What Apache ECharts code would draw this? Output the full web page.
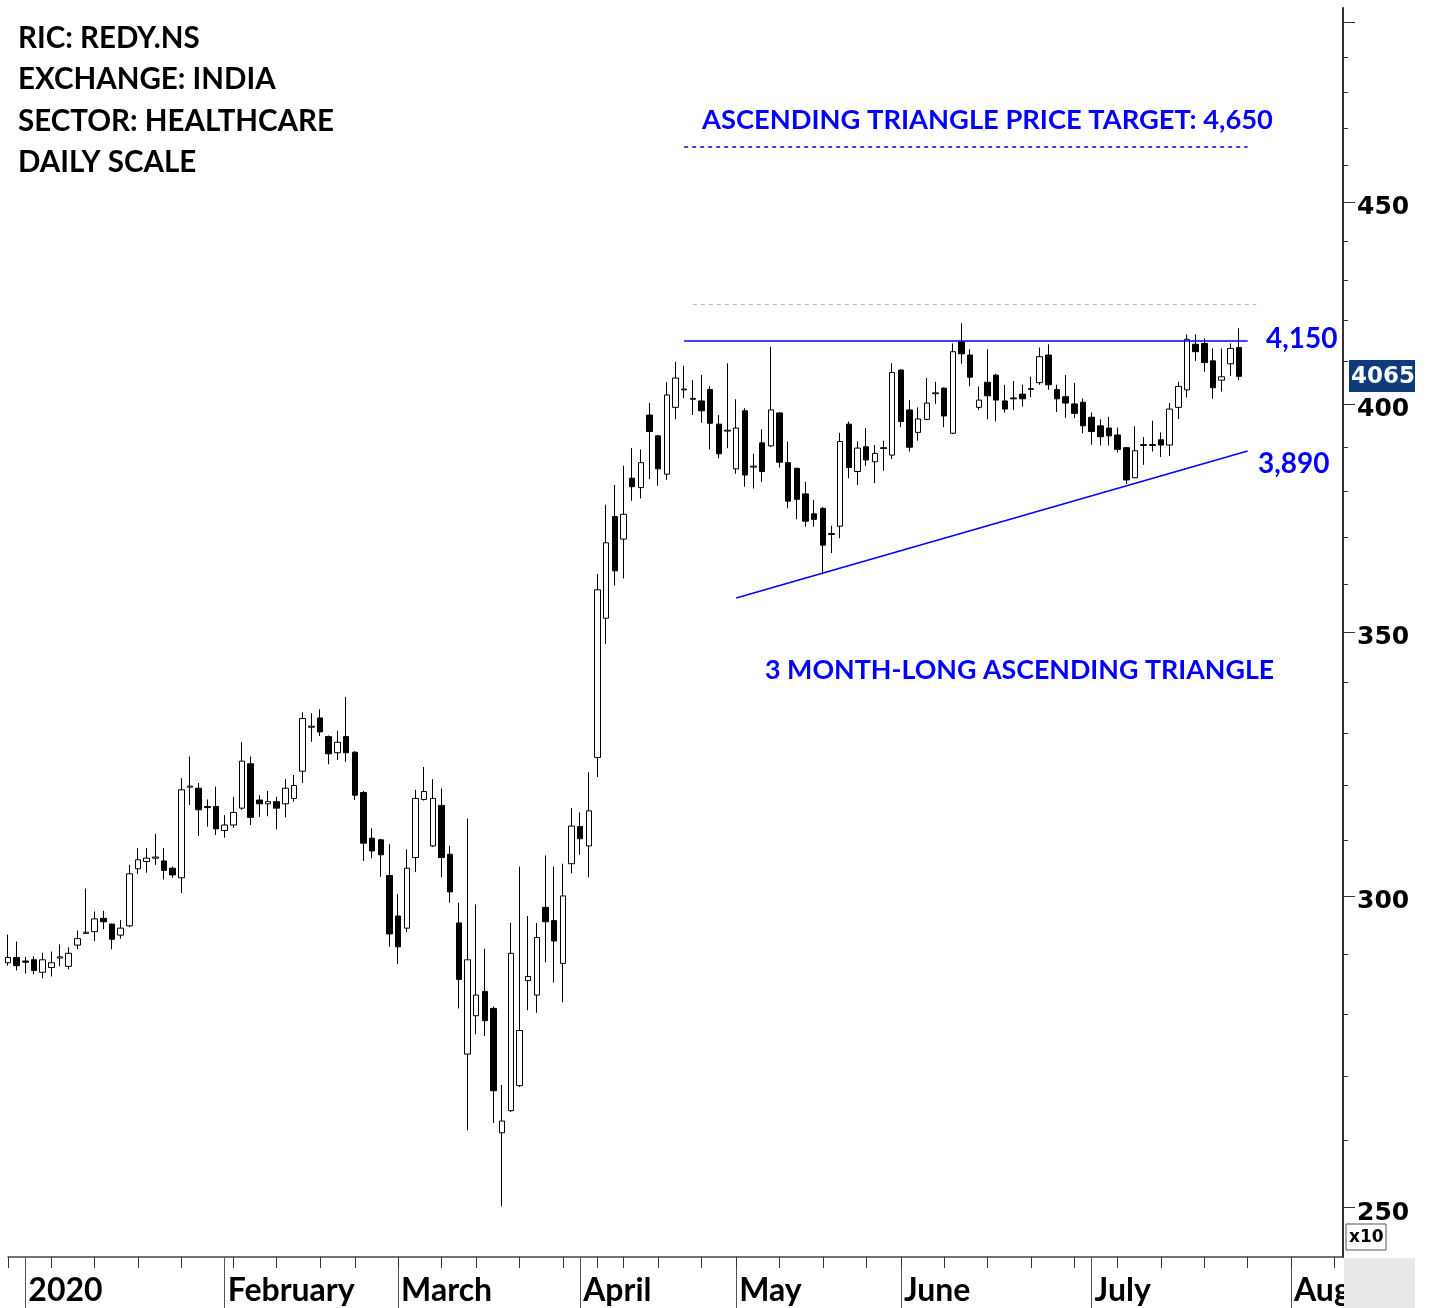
<!DOCTYPE html>
<html><head><meta charset="utf-8">
<script src="https://cdn.jsdelivr.net/npm/echarts@6/dist/echarts.min.js"></script>
<style>html,body{margin:0;padding:0;background:#fff}#chart{width:1429px;height:1308px}</style>
</head><body><div id="chart"></div>
<script>
// ---- trading days (category axis) ----
const dec19 = [30,31];
const jan20 = [1,2,3,6,7,8,9,10,13,14,15,16,17,20,21,22,23,24,27,28,29,30,31];
const feb20 = [1,3,4,5,6,7,10,11,12,13,14,17,18,19,20,24,25,26,27,28];
const mar20 = [2,3,4,5,6,9,11,12,13,16,17,18,19,20,23,24,25,26,27,30,31];
const apr20 = [1,3,7,8,9,13,15,16,17,20,21,22,23,24,27,28,29,30];
const may20 = [4,5,6,7,8,11,12,13,14,15,18,19,20,21,22,26,27,28,29];
const jun20 = [1,2,3,4,5,8,9,10,11,12,15,16,17,18,19,22,23,24,25,26,29,30];
const jul20 = [1,2,3,6,7,8,9,10,13,14,15,16,17,20,21,22,23,24,27,28,29,30,31];
const aug20 = [3,4,5,6,7,10,11];

// month tick labels (index = month number, Jan..Aug)
const monthLabels = ['2020','February','March','April','May','June','July','August'];

// ---- daily candles: [open, close, low, high] (price / 10) ----
const ohlc = [
 [288.5,289.4,288.0,293.3],[289.4,288.0,287.2,292.1],
 // January
 [288.8,288.6,286.7,289.5],[289.0,287.2,286.6,289.6],[286.9,289.0,285.9,290.2],[287.7,288.5,286.2,290.4],
 [289.3,289.5,287.9,291.6],[287.9,290.1,287.4,291.1],[291.5,292.6,290.8,294.0],[293.5,293.7,293.4,301.3],
 [293.8,296.0,292.2,297.3],[296.1,295.5,294.2,297.4],[295.1,292.5,290.8,295.2],[293.2,294.4,292.6,295.8],
 [294.8,303.9,294.6,305.5],[304.8,306.4,303.9,308.5],[306.1,306.7,304.1,308.5],[306.7,306.9,305.5,311.1],
 [306.2,304.5,302.9,308.5],[304.9,303.7,303.2,305.2],[303.2,319.2,300.5,321.4],[319.7,319.9,316.4,325.5],
 [319.5,315.5,310.7,320.5],[316.1,315.9,312.4,317.4],[316.1,312.0,310.9,319.8],
 // February
 [311.7,312.7,310.4,314.5],[312.7,315.0,312.2,317.9],[315.8,324.6,315.5,328.2],[324.1,314.1,312.7,325.5],
 [317.3,316.6,314.2,318.2],[316.6,317.0,314.3,319.0],[317.0,315.8,311.9,317.9],[316.6,319.5,314.1,321.2],
 [317.6,320.0,317.0,322.0],[322.7,332.8,320.5,334.0],[331.1,331.3,328.3,333.8],[332.9,330.2,329.4,334.6],
 [329.3,326.0,324.0,329.5],[326.2,328.2,324.8,330.4],[329.3,326.2,324.5,337.0],[326.3,318.2,317.3,326.5],
 [318.7,309.4,306.2,319.0],[310.3,308.0,306.7,312.1],[310.0,307.3,303.4,310.2],[303.6,293.4,291.2,309.2],
 // March
 [296.5,291.2,288.3,300.3],[294.4,304.9,293.7,308.3],[306.8,317.6,304.2,319.2],[317.4,318.9,317.2,323.5],
 [308.9,317.6,308.7,321.2],[316.3,306.8,303.3,319.5],[307.4,300.7,298.8,308.9],[295.3,285.7,280.9,298.8],
 [273.5,289.0,261.6,313.9],[279.7,283.1,276.7,298.5],[283.7,278.9,276.4,290.9],[280.9,267.7,262.7,281.2],
 [261.2,263.0,250.2,268.6],[264.6,290.1,264.4,295.3],[268.5,277.3,268.3,305.2],[285.5,286.2,280.6,296.5],
 [283.1,292.8,280.2,295.3],[298.0,295.5,288.6,307.2],[295.7,292.2,285.2,305.2],[288.4,300.0,281.9,305.7],
 [305.7,312.5,304.0,315.8],
 // April
 [312.4,310.2,307.3,315.0],[308.9,315.3,303.3,322.5],[325.3,358.8,321.6,362.1],[352.9,368.8,347.6,377.1],
 [374.5,362.8,359.7,381.5],[369.6,375.0,361.2,385.8],[383.0,381.1,378.0,389.8],[380.9,386.5,378.5,389.5],
 [397.4,393.6,382.8,400.2],[392.6,385.1,381.3,392.8],[383.9,402.1,382.6,405.1],[399.2,406.1,396.4,410.0],
 [403.3,403.5,401.3,409.0],[401.3,401.1,397.4,405.6],[400.7,398.4,395.6,406.8],[403.4,395.5,389.5,404.2],
 [395.3,388.5,387.5,397.4],[393.7,393.9,389.8,409.6],
 // May
 [385.1,394.4,384.0,401.1],[398.4,383.7,381.1,399.0],[385.5,385.7,380.7,388.5],[391.0,384.5,382.2,394.1],
 [390.3,398.6,390.1,413.6],[397.9,386.6,385.4,398.1],[386.5,377.9,376.3,391.3],[385.2,378.3,373.9,385.4],
 [379.5,373.5,372.3,382.2],[375.1,373.9,372.3,378.2],[376.3,368.3,362.1,376.6],[370.6,370.8,366.6,372.5],
 [372.4,391.3,369.8,393.3],[395.3,385.4,383.0,395.9],[384.5,389.8,381.5,391.3],[390.1,387.1,385.8,394.4],
 [386.7,388.6,381.9,390.5],[389.7,389.9,384.7,391.5],[388.2,407.4,387.3,409.6],
 // June
 [408.0,395.9,394.6,408.2],[398.6,390.0,389.0,400.9],[393.4,396.5,391.5,399.2],[396.4,400.2,396.2,406.1],
 [402.4,402.6,400.0,405.2],[403.7,397.2,394.6,403.9],[393.2,412.4,393.0,414.4],[414.8,411.9,409.5,419.3],
 [411.6,406.3,404.2,413.0],[399.2,400.9,398.6,404.1],[405.1,401.9,396.4,413.0],[406.8,400.9,395.9,407.1],
 [400.7,398.8,398.0,404.5],[401.4,401.2,398.6,405.4],[402.3,401.2,399.4,404.5],[403.4,403.6,401.6,406.4],
 [405.0,411.2,404.5,413.4],[411.6,404.5,403.3,414.2],[403.4,401.2,398.1,404.5],[401.7,400.2,396.8,406.8],
 [400.0,397.8,396.7,404.9],[400.4,394.9,393.2,401.3],
 // July
 [396.9,393.6,390.6,398.0],[394.9,392.4,390.4,396.4],[394.4,392.6,390.4,397.0],[392.8,389.5,388.8,394.5],
 [389.9,382.6,381.7,390.1],[383.1,389.2,383.0,394.8],[390.4,390.6,386.0,392.3],[390.6,390.4,389.0,396.1],
 [391.7,390.5,387.8,393.4],[390.5,398.8,388.0,400.2],[399.2,404.1,396.5,405.2],[403.3,415.4,401.5,416.6],
 [414.2,412.4,410.2,416.6],[414.4,409.8,407.6,415.6],[410.2,403.8,401.2,413.2],[405.6,406.4,402.9,413.2],
 [409.5,413.2,406.6,414.4],[413.4,406.5,405.6,418.1]
];

// ---- y axis ticks ----
const yLabelValues = [250,300,350,400,450];
const yMajorTicks = [250,300,350,400,450,500];
const yMinorTicks = [250,260,270,280,290,300,310,320,330,340,350,360,370,380,390,400,410,420,430,440,450,460,470,480,490,500];
const yMin = 242.9, yMax = 504.2;

// ---- annotation levels ----
const targetLevel = 465.0;      // 4,650
const resistanceLevel = 415.0;  // 4,150
const greyLevel = 424.1;
const trendStartValue = 357.1;
const trendEndValue = 389.15;   // 3,890
const lastPriceLabel = '4065';

// ---- build categories ----
const pad = n => (n < 10 ? '0' : '') + n;
const monthBlocks = [[2019,11,dec19],[2020,0,jan20],[2020,1,feb20],[2020,2,mar20],[2020,3,apr20],[2020,4,may20],[2020,5,jun20],[2020,6,jul20],[2020,7,aug20]];
const dates = [], dayObjs = [];
monthBlocks.forEach(([y,m,days]) => days.forEach(d => {
  dates.push(y + '-' + pad(m+1) + '-' + pad(d));
  dayObjs.push(new Date(Date.UTC(y,m,d)));
}));
const isMonthStart = i => i > 0 && dayObjs[i].getUTCMonth() !== dayObjs[i-1].getUTCMonth();
const isWeekStart = i => i === 0 || dayObjs[i].getUTCDay() < dayObjs[i-1].getUTCDay() ||
  (dayObjs[i] - dayObjs[i-1]) >= 7*86400000;

const BLUE = '#0000ff';
const TXT_BLACK = 'bold 29.5px Lato';
const TXT_NUM = 'bold 28px Lato';
const chart = echarts.init(document.getElementById('chart'), null, {renderer:'canvas'});
const gridBox = {left: 8, right: 86, top: 8, bottom: 51};

chart.setOption({
  animation: false,
  backgroundColor: '#ffffff',
  grid: [Object.assign({}, gridBox), Object.assign({}, gridBox)],
  xAxis: [
    {type:'category', gridIndex:0, data: dates, boundaryGap:false,
     axisLine:{show:true, lineStyle:{color:'#444', width:1.5}},
     axisTick:{show:true, interval:(i)=>isMonthStart(i), length:51, lineStyle:{color:'#555', width:1}},
     axisLabel:{show:true, interval:(i)=>isMonthStart(i),
       formatter:(v,i)=>monthLabels[dayObjs[i].getUTCMonth()],
       align:'left', padding:[0,0,0,3], margin:18, color:'#000',
       fontFamily:'Lato', fontWeight:'bold', fontSize:32},
     splitLine:{show:false}},
    {type:'category', gridIndex:1, data: dates, boundaryGap:false,
     axisLine:{show:false},
     axisTick:{show:true, interval:(i)=>isWeekStart(i), length:11, lineStyle:{color:'#333', width:1}},
     axisLabel:{show:false}, splitLine:{show:false}}
  ],
  yAxis: [
    {type:'log', logBase:10, gridIndex:0, position:'right', min:yMin, max:yMax,
     axisLine:{show:true, lineStyle:{color:'#333', width:2}},
     axisTick:{show:true, length:12, customValues: yMajorTicks, lineStyle:{color:'#333', width:1}},
     axisLabel:{show:true, customValues: yLabelValues, margin:14, color:'#000',
       fontFamily:'DejaVu Sans', fontWeight:'bold', fontSize:25,
       verticalAlign:'top', lineHeight:11,
       formatter:(v)=>String(Math.round(v))},
     splitLine:{show:false}},
    {type:'log', logBase:10, gridIndex:1, position:'right', min:yMin, max:yMax,
     axisLine:{show:false},
     axisTick:{show:true, length:5, customValues: yMinorTicks, lineStyle:{color:'#333', width:1}},
     axisLabel:{show:false}, splitLine:{show:false}}
  ],
  series: [{
    type:'candlestick', xAxisIndex:0, yAxisIndex:0, data: ohlc, barWidth:6,
    itemStyle:{color:'#ffffff', color0:'#000000', borderColor:'#000000', borderColor0:'#000000',
      borderColorDoji:'#000000', borderWidth:1},
    markLine:{
      silent:true, symbol:['none','none'], label:{show:false},
      data:[
        [{coord:[dates[78], targetLevel], lineStyle:{color:BLUE, type:[4,4], width:1.5}}, {coord:[dates[143], targetLevel]}],
        [{coord:[dates[79], greyLevel], lineStyle:{color:'#bdbdbd', type:[4,4], width:1}}, {coord:[dates[144], greyLevel]}],
        [{coord:[dates[78], resistanceLevel], lineStyle:{color:BLUE, type:'solid', width:1.5}}, {coord:[dates[143], resistanceLevel]}],
        [{coord:[dates[84], trendStartValue], lineStyle:{color:BLUE, type:'solid', width:1.5}}, {coord:[dates[143], trendEndValue]}]
      ]
    }
  }],
  graphic: [
    {type:'rect', z:100, shape:{x:1344, y:1258, width:71, height:50}, style:{fill:'#e8e8e8'}},
    {type:'rect', z:100, shape:{x:1346, y:1224, width:40, height:26}, style:{fill:'#fff', stroke:'#555', lineWidth:1}},
    {type:'text', z:101, x:1349, y:1238, style:{text:'x10', font:'bold 17px DejaVu Sans', fill:'#000', verticalAlign:'middle'}},
    {type:'rect', z:100, shape:{x:1349, y:360, width:66, height:32}, style:{fill:'#0d3b7a'}},
    {type:'text', z:101, x:1351, y:377, style:{text:lastPriceLabel, font:'bold 23px DejaVu Sans', fill:'#fff', verticalAlign:'middle'}},
    {type:'text', z:101, x:18, y:38, style:{text:'RIC: REDY.NS', font:TXT_BLACK, fill:'#000', verticalAlign:'middle'}},
    {type:'text', z:101, x:18, y:79, style:{text:'EXCHANGE: INDIA', font:TXT_BLACK, fill:'#000', verticalAlign:'middle'}},
    {type:'text', z:101, x:18, y:121, style:{text:'SECTOR: HEALTHCARE', font:TXT_BLACK, fill:'#000', verticalAlign:'middle'}},
    {type:'text', z:101, x:18, y:162, style:{text:'DAILY SCALE', font:TXT_BLACK, fill:'#000', verticalAlign:'middle'}},
    {type:'text', z:101, x:702, y:120, style:{text:'ASCENDING TRIANGLE PRICE TARGET: 4,650', font:'bold 27.3px Lato', fill:BLUE, verticalAlign:'middle'}},
    {type:'text', z:101, x:1266, y:339, style:{text:'4,150', font:TXT_NUM, fill:BLUE, verticalAlign:'middle'}},
    {type:'text', z:101, x:1258, y:464, style:{text:'3,890', font:TXT_NUM, fill:BLUE, verticalAlign:'middle'}},
    {type:'text', z:101, x:765, y:670, style:{text:'3 MONTH-LONG ASCENDING TRIANGLE', font:'bold 26.8px Lato', fill:BLUE, verticalAlign:'middle'}}
  ]
});
</script></body></html>
